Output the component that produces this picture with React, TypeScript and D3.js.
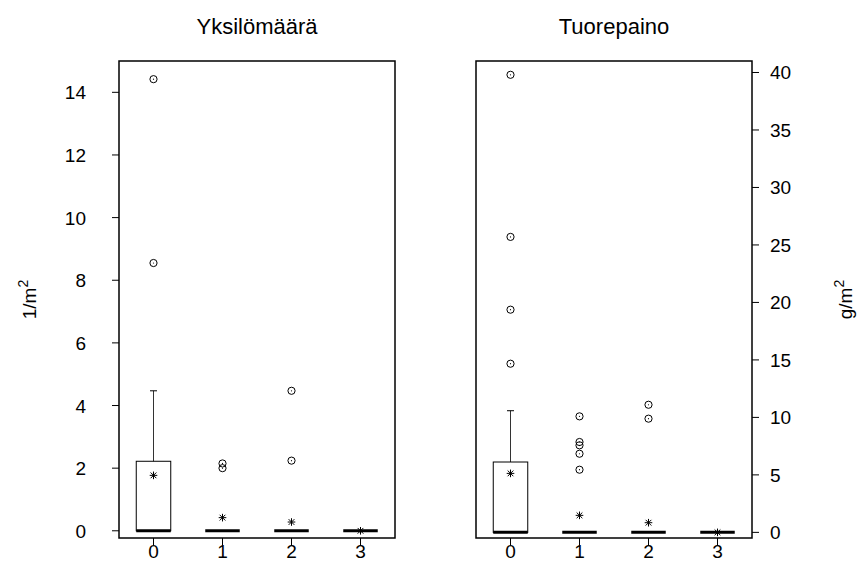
import React from "react";
import * as d3 from "d3";

const groups = ["0", "1", "2", "3"];

// Left panel: Yksilömäärä (1/m2)
const leftQ1 = [0, 0, 0, 0];
const leftMedian = [0, 0, 0, 0];
const leftQ3 = [2.22, 0, 0, 0];
const leftWhiskerHigh = [4.47, 0, 0, 0];
const leftMeans = [1.77, 0.42, 0.28, 0];
const leftOutliers = [[8.55, 14.42], [2.0, 2.15], [2.24, 4.47], []];
const leftTicks = [0, 2, 4, 6, 8, 10, 12, 14];

// Right panel: Tuorepaino (g/m2)
const rightQ1 = [0, 0, 0, 0];
const rightMedian = [0, 0, 0, 0];
const rightQ3 = [6.12, 0, 0, 0];
const rightWhiskerHigh = [10.58, 0, 0, 0];
const rightMeans = [5.13, 1.48, 0.84, 0];
const rightOutliers = [[14.67, 19.37, 25.7, 39.8], [5.45, 6.84, 7.57, 7.86, 10.09], [9.89, 11.1], []];
const rightTicks = [0, 5, 10, 15, 20, 25, 30, 35, 40];

const FONT = "'Liberation Sans', Arial, sans-serif";

type PanelProps = {
  x0: number;
  x1: number;
  title: string;
  yDomain: [number, number];
  q1: number[];
  med: number[];
  q3: number[];
  wh: number[];
  means: number[];
  outliers: number[][];
  ticks: number[];
  side: "left" | "right";
  label: string;
  labelX: number;
};

const TOP = 61;
const BOTTOM = 538;

function Panel(p: PanelProps) {
  const x = d3.scaleBand<string>().domain(groups).range([p.x0, p.x1]);
  const y = d3.scaleLinear().domain(p.yDomain).range([BOTTOM, TOP]);
  const bw = x.bandwidth();
  const halfBox = bw * 0.25;
  const axisX = p.side === "left" ? p.x0 : p.x1;
  const tickDir = p.side === "left" ? -1 : 1;
  const cy = (TOP + BOTTOM) / 2;
  return (
    <g>
      <text x={(p.x0 + p.x1) / 2} y={34} textAnchor="middle" fontSize={22} fontFamily={FONT}>
        {p.title}
      </text>
      <rect x={p.x0} y={TOP} width={p.x1 - p.x0} height={BOTTOM - TOP} fill="none" stroke="#000" strokeWidth={1.5} />
      {groups.map((g, i) => {
        const cx = (x(g) as number) + bw / 2;
        return (
          <g key={g}>
            <line x1={cx} x2={cx} y1={BOTTOM} y2={BOTTOM + 7} stroke="#000" strokeWidth={1} />
            <text x={cx} y={558} textAnchor="middle" fontSize={19} fontFamily={FONT}>
              {g}
            </text>
            {p.wh[i] > p.q3[i] && (
              <g>
                <line x1={cx} x2={cx} y1={y(p.q3[i])} y2={y(p.wh[i])} stroke="#333" strokeWidth={1} />
                <line x1={cx - 3.5} x2={cx + 3.5} y1={y(p.wh[i])} y2={y(p.wh[i])} stroke="#000" strokeWidth={1} />
              </g>
            )}
            {p.q3[i] > p.q1[i] && (
              <rect
                x={cx - halfBox}
                y={y(p.q3[i])}
                width={halfBox * 2}
                height={y(p.q1[i]) - y(p.q3[i])}
                fill="none"
                stroke="#000"
                strokeWidth={1}
              />
            )}
            <line x1={cx - halfBox} x2={cx + halfBox} y1={y(p.med[i])} y2={y(p.med[i])} stroke="#000" strokeWidth={3} />
            {p.outliers[i].map((v, k) => (
              <g key={k}>
                <circle cx={cx} cy={y(v)} r={3.6} fill="none" stroke="#000" strokeWidth={1} />
                <circle cx={cx} cy={y(v)} r={0.6} fill="#000" />
              </g>
            ))}
            {(() => {
              const my = y(p.means[i]);
              const s = 3.8;
              const d = s * 0.75;
              return (
                <g stroke="#000" strokeWidth={1}>
                  <line x1={cx - s} x2={cx + s} y1={my} y2={my} />
                  <line x1={cx} x2={cx} y1={my - s} y2={my + s} />
                  <line x1={cx - d} x2={cx + d} y1={my - d} y2={my + d} />
                  <line x1={cx - d} x2={cx + d} y1={my + d} y2={my - d} />
                </g>
              );
            })()}
          </g>
        );
      })}
      {p.ticks.map((t) => (
        <g key={t}>
          <line x1={axisX} x2={axisX + tickDir * 7} y1={y(t)} y2={y(t)} stroke="#000" strokeWidth={1} />
          <text
            x={p.side === "left" ? 86 : 770}
            y={y(t) + 7}
            textAnchor={p.side === "left" ? "end" : "start"}
            fontSize={19}
            fontFamily={FONT}
          >
            {t}
          </text>
        </g>
      ))}
      <text
        transform={`translate(${p.labelX},${cy}) rotate(-90)`}
        textAnchor="middle"
        fontSize={19}
        fontFamily={FONT}
      >
        {p.label}
        <tspan fontSize={14} dy={-8}>2</tspan>
      </text>
    </g>
  );
}

export default function App() {
  return (
    <svg width={861} height={580} style={{ position: "absolute", left: 0, top: 0, background: "#fff" }}>
      <rect width={861} height={580} fill="#fff" />
      <Panel
        x0={119}
        x1={395}
        title="Yksilömäärä"
        yDomain={[-0.23, 15.0]}
        q1={leftQ1}
        med={leftMedian}
        q3={leftQ3}
        wh={leftWhiskerHigh}
        means={leftMeans}
        outliers={leftOutliers}
        ticks={leftTicks}
        side="left"
        label="1/m"
        labelX={36}
      />
      <Panel
        x0={476}
        x1={752}
        title="Tuorepaino"
        yDomain={[-0.49, 41.0]}
        q1={rightQ1}
        med={rightMedian}
        q3={rightQ3}
        wh={rightWhiskerHigh}
        means={rightMeans}
        outliers={rightOutliers}
        ticks={rightTicks}
        side="right"
        label="g/m"
        labelX={852}
      />
    </svg>
  );
}
